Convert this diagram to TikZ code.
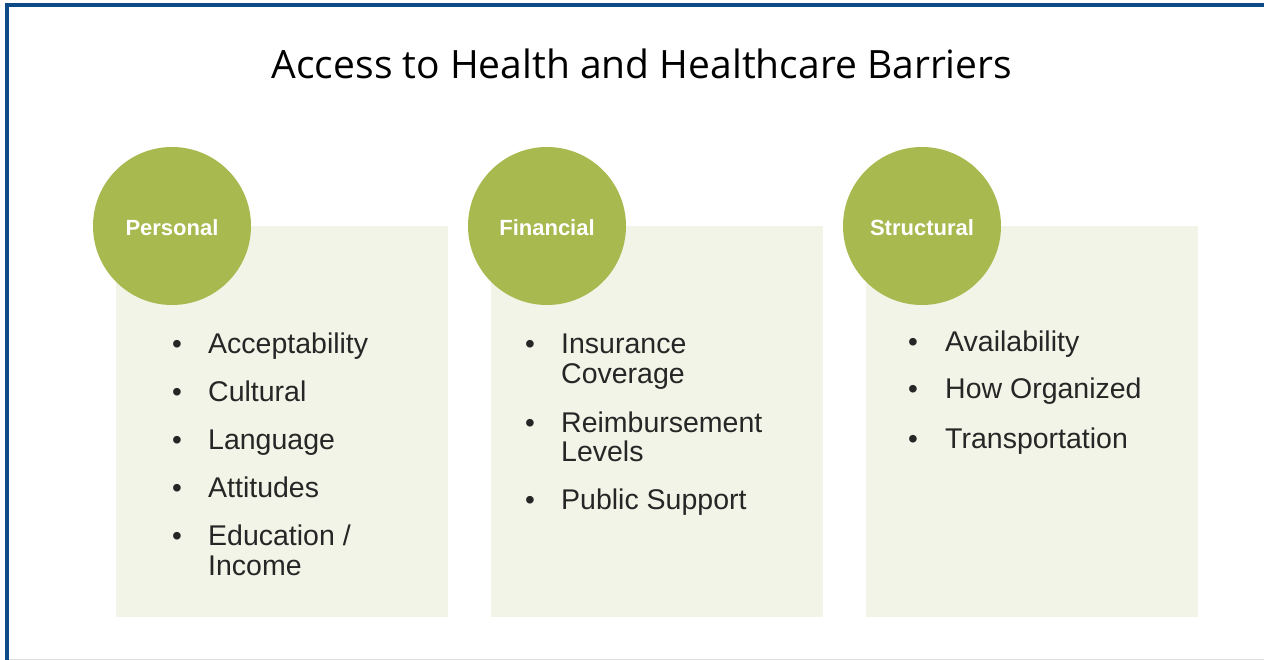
\documentclass[tikz,border=0pt]{standalone}
\usepackage{fontspec}
\setmainfont{Liberation Sans}
\newfontfamily\titlefont{Open Sans}
\usetikzlibrary{positioning}

\definecolor{frameblue}{HTML}{0D4A87}
\definecolor{leafgreen}{HTML}{A7B94F}
\definecolor{panelfill}{HTML}{F2F4E7}
\definecolor{itemgray}{HTML}{262626}

\tikzset{
  panel/.style={fill=panelfill, minimum width=332pt, minimum height=391pt, inner sep=0pt},
  badge/.style={circle, fill=leafgreen, minimum size=158pt, inner sep=0pt,
    text height=20pt, text depth=0pt,
    text=white, font=\bfseries\fontsize{22}{26}\selectfont},
  item/.style={anchor=base west, text=itemgray, inner sep=0pt,
    font=\fontsize{28.5}{29}\selectfont},
  dot/.style={anchor=base, text=itemgray, inner sep=0pt,
    font=\fontsize{28}{29}\selectfont},
}

\begin{document}
\begin{tikzpicture}[x=1pt,y=-1pt]
\useasboundingbox (0,0) rectangle (1264,660);
% frame
\fill[frameblue] (5,3) rectangle (1264,7);
\fill[frameblue] (5,3) rectangle (9,660);
\draw[gray!25] (9,659.5) -- (1264,659.5);

\node[anchor=base, font=\titlefont\fontsize{39}{44}\selectfont] (title) at (642,79)
  {Access to Health and Healthcare Barriers};

% panels
\node[panel, anchor=north west] (personalbox) at (116,226) {};
\node[panel, anchor=north west] (financialbox) at (491,226) {};
\node[panel, anchor=north west] (structuralbox) at (866,226) {};

% circles
\node[badge] (personal) at (172,226) {Personal};
\node[badge] (financial) at (547,226) {Financial};
\node[badge] (structural) at (922,226) {Structural};

% personal
\node[dot] (pd1) at (177,353) {•};
\node[item] (p1) at (208,353) {Acceptability};
\node[dot] (pd2) at (177,401) {•};
\node[item] (p2) at (208,401) {Cultural};
\node[dot] (pd3) at (177,449) {•};
\node[item] (p3) at (208,449) {Language};
\node[dot] (pd4) at (177,497) {•};
\node[item] (p4) at (208,497) {Attitudes};
\node[dot] (pd5) at (177,545) {•};
\node[item] (p5) at (208,545) {Education /};
\node[item] (p5b) at (208,575) {Income};

% financial
\node[dot] (fd1) at (530,354) {•};
\node[item] (f1) at (561,354) {Insurance};
\node[item] (f1b) at (561,383) {Coverage};
\node[dot] (fd2) at (530,432) {•};
\node[item] (f2) at (561,432) {Reimbursement};
\node[item] (f2b) at (561,461) {Levels};
\node[dot] (fd3) at (530,509) {•};
\node[item] (f3) at (561,509) {Public Support};

% structural
\node[dot] (sd1) at (913,352) {•};
\node[item] (s1) at (945,352) {Availability};
\node[dot] (sd2) at (913,399) {•};
\node[item] (s2) at (945,399) {How Organized};
\node[dot] (sd3) at (913,448) {•};
\node[item] (s3) at (945,448) {Transportation};
\end{tikzpicture}
\end{document}
